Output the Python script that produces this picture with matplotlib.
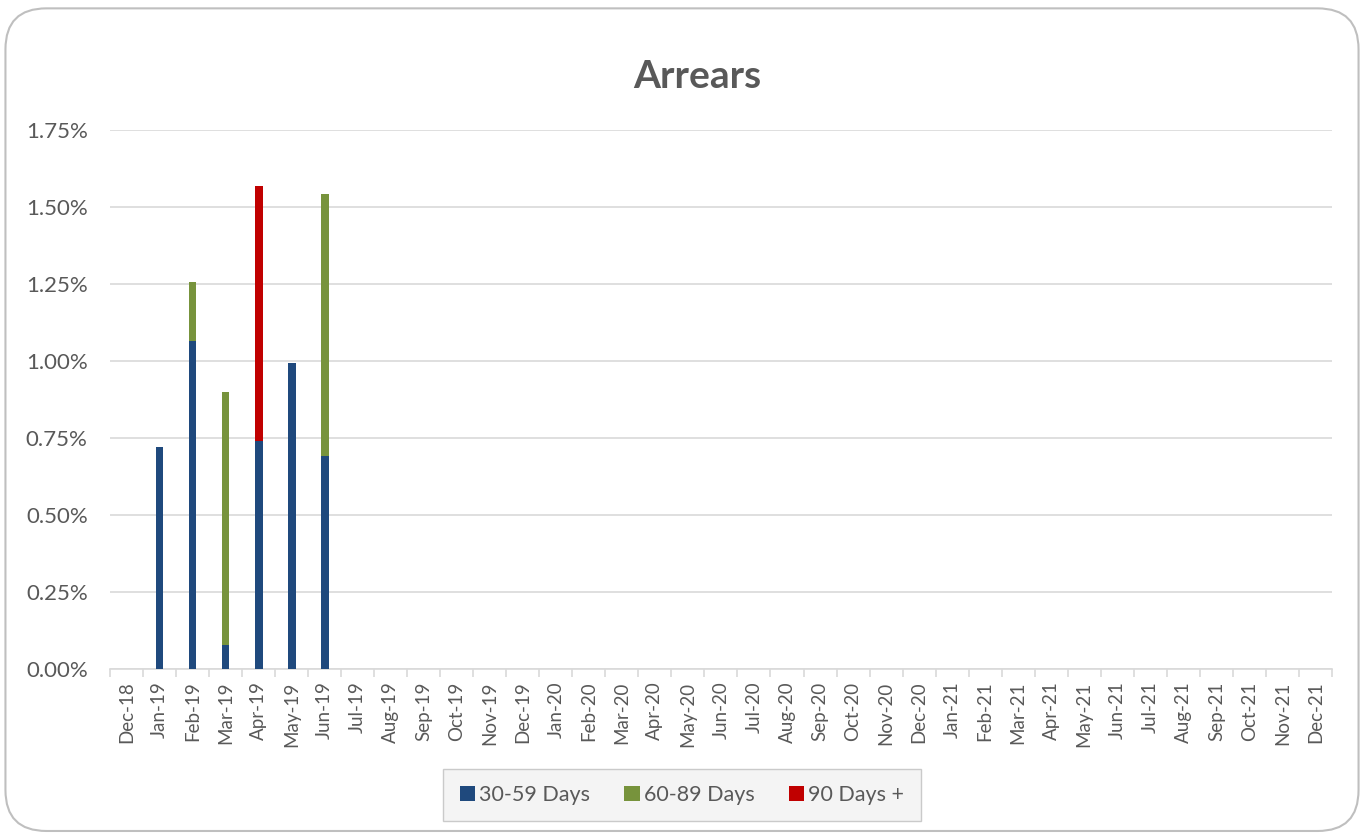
import numpy as np
import matplotlib
matplotlib.use("Agg")
from matplotlib import pyplot as plt
from matplotlib.patches import FancyBboxPatch
from matplotlib.ticker import FuncFormatter, FixedLocator

plt.rcParams['font.family'] = ['Lato', 'DejaVu Sans']

months = ['Dec-18', 'Jan-19', 'Feb-19', 'Mar-19', 'Apr-19', 'May-19', 'Jun-19', 'Jul-19',
          'Aug-19', 'Sep-19', 'Oct-19', 'Nov-19', 'Dec-19', 'Jan-20', 'Feb-20', 'Mar-20',
          'Apr-20', 'May-20', 'Jun-20', 'Jul-20', 'Aug-20', 'Sep-20', 'Oct-20', 'Nov-20',
          'Dec-20', 'Jan-21', 'Feb-21', 'Mar-21', 'Apr-21', 'May-21', 'Jun-21', 'Jul-21',
          'Aug-21', 'Sep-21', 'Oct-21', 'Nov-21', 'Dec-21']

# percent values, months with no data are zero
d30_59 = [0, 0.722, 1.066, 0.078, 0.741, 0.992, 0.692]
d60_89 = [0, 0, 0.191, 0.822, 0, 0, 0.850]
d90_plus = [0, 0, 0, 0, 0.828, 0, 0]

series_names = ['30-59 Days', '60-89 Days', '90 Days +']
colors = ['#1f497d', '#77933c', '#c00000']

n = len(months)
def pad(vals):
    return np.array(vals + [0] * (n - len(vals)))

s1, s2, s3 = pad(d30_59), pad(d60_89), pad(d90_plus)
x = np.arange(n)

fig = plt.figure(figsize=(13.64, 8.36), dpi=100)
fig.patches.append(FancyBboxPatch((0.004, 0.006), 0.992, 0.984, boxstyle="round,pad=0,rounding_size=0.03",
                                  transform=fig.transFigure, facecolor='white', edgecolor='#bfbfbf',
                                  linewidth=1.5, mutation_aspect=1364 / 836, zorder=-10))
ax = fig.add_axes([0.0806, 0.1998, 0.8959, 0.6447])
ax.set_facecolor('none')

w = 0.24
ax.bar(x, s1, w, color=colors[0], label=series_names[0], zorder=3)
ax.bar(x, s2, w, bottom=s1, color=colors[1], label=series_names[1], zorder=3)
ax.bar(x, s3, w, bottom=s1 + s2, color=colors[2], label=series_names[2], zorder=3)

ax.set_xlim(-0.5, n - 0.5)
ax.set_ylim(0, 1.75)
ax.set_yticks(np.arange(0, 1.76, 0.25))
ax.yaxis.set_major_formatter(FuncFormatter(lambda v, p: f'{v:.2f}%'))
ax.grid(axis='y', color='#d9d9d9', linewidth=1.2, zorder=0)

ax.set_xticks(x)
ax.set_xticklabels(months, rotation=90)
ax.xaxis.set_minor_locator(FixedLocator(np.arange(-0.5, n, 1)))
ax.tick_params(axis='x', which='major', length=0, pad=9, labelsize=13.5, labelcolor='#595959')
ax.tick_params(axis='x', which='minor', length=6, color='#d9d9d9', width=1.2)
ax.tick_params(axis='y', length=0, pad=16, labelsize=16, labelcolor='#595959')

for side in ['top', 'right', 'left']:
    ax.spines[side].set_visible(False)
ax.spines['bottom'].set_color('#d9d9d9')
ax.spines['bottom'].set_linewidth(1.2)

fig.suptitle('Arrears', x=0.511, y=0.93, fontsize=28, fontweight='bold', color='#595959')

leg = fig.legend(loc='center', bbox_to_anchor=(0.5, 0.049), ncol=3, fontsize=15.5,
                 frameon=True, fancybox=False, handlelength=0.7, handleheight=0.7,
                 handletextpad=0.2, columnspacing=1.6, borderpad=0.75, borderaxespad=0)
leg.get_frame().set_facecolor('#f2f2f2')
leg.get_frame().set_edgecolor('#bfbfbf')
for t in leg.get_texts():
    t.set_color('#595959')

plt.savefig('out.png', dpi=100)
